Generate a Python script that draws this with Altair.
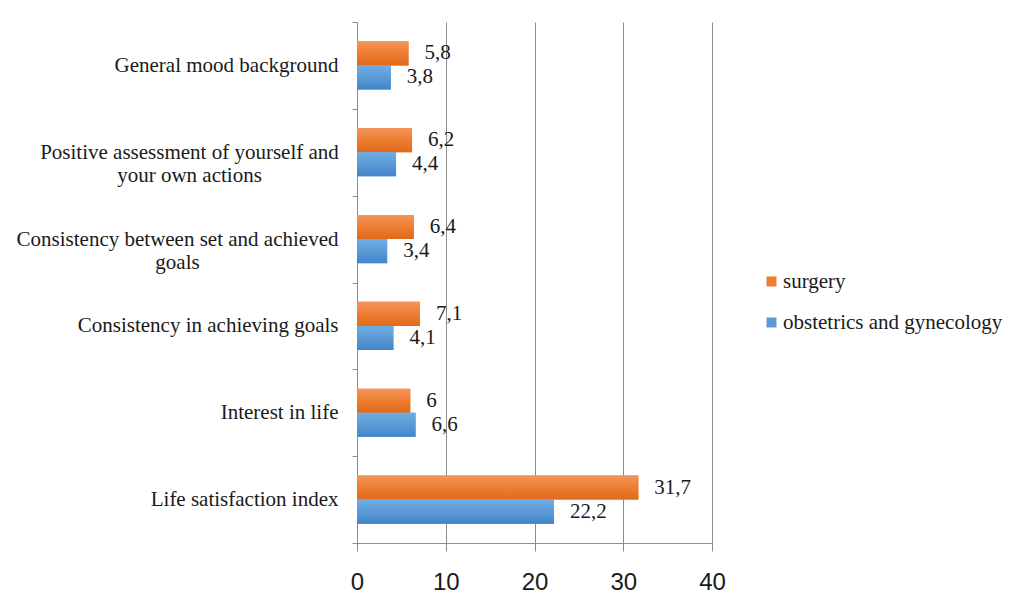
import altair as alt
import pandas as pd

categories = [
    "General mood background",
    "Positive assessment of yourself and your own actions",
    "Consistency between set and achieved goals",
    "Consistency in achieving goals",
    "Interest in life",
    "Life satisfaction index",
]
series = ["surgery", "obstetrics and gynecology"]
surgery = [5.8, 6.2, 6.4, 7.1, 6.0, 31.7]
obgyn = [3.8, 4.4, 3.4, 4.1, 6.6, 22.2]

rows = []
for c, s, o in zip(categories, surgery, obgyn):
    rows.append({"category": c, "series": series[0], "value": s})
    rows.append({"category": c, "series": series[1], "value": o})
df = pd.DataFrame(rows)

SERIF = "Liberation Serif"
FS = 21
orange_grad = alt.Gradient(
    gradient="linear", x1=0, y1=0, x2=0, y2=1,
    stops=[alt.GradientStop(color="#F4955C", offset=0),
           alt.GradientStop(color="#ED7D31", offset=0.5),
           alt.GradientStop(color="#E06A1C", offset=1)],
)
blue_grad = alt.Gradient(
    gradient="linear", x1=0, y1=0, x2=0, y2=1,
    stops=[alt.GradientStop(color="#6FADE3", offset=0),
           alt.GradientStop(color="#5B9BD5", offset=0.5),
           alt.GradientStop(color="#4084CA", offset=1)],
)

label_expr = (
    "datum.label == 'Positive assessment of yourself and your own actions' ? "
    "['Positive assessment of yourself and', 'your own actions'] : "
    "datum.label == 'Consistency between set and achieved goals' ? "
    "['Consistency between set and achieved', 'goals'] : datum.label"
)
t_pos = "datum.value == 'Positive assessment of yourself and your own actions'"
t_con = "datum.value == 'Consistency between set and achieved goals'"

y_enc = alt.Y(
    "category:N",
    sort=categories,
    scale=alt.Scale(paddingInner=0, paddingOuter=0),
    axis=alt.Axis(
        title=None, labelExpr=label_expr, labelFont=SERIF, labelFontSize=FS,
        labelColor="#1a1a1a", labelLineHeight=23,
        labelPadding={"condition": [{"test": t_pos, "value": 163},
                                    {"test": t_con, "value": 175}],
                      "value": 14},
        labelAlign={"condition": [{"test": t_pos, "value": "center"},
                                  {"test": t_con, "value": "center"}],
                    "value": "right"},
        tickBand="extent", tickSize=5, tickColor="#8c8c8c",
        domainColor="#8c8c8c", labelLimit=400, grid=False,
    ),
)
yoff_enc = alt.YOffset(
    "series:N", sort=series, scale=alt.Scale(paddingInner=0, paddingOuter=0.8)
)
x_enc = alt.X(
    "value:Q",
    scale=alt.Scale(domain=[0, 40], nice=False),
    axis=alt.Axis(
        title=None, values=[0, 10, 20, 30, 40], labelFont="Liberation Sans",
        labelFontSize=24, labelColor="#1a1a1a", labelPadding=19,
        tickSize=8, tickColor="#8c8c8c", gridColor="#8c8c8c",
        domain=True, domainColor="#8c8c8c",
        grid=True, labelFlush=False,
    ),
)

base = alt.Chart(df)

legend_bars = base.mark_bar().encode(
    x=x_enc, y=y_enc, yOffset=yoff_enc,
    color=alt.Color(
        "series:N",
        scale=alt.Scale(domain=series, range=["#ED7D31", "#5B9BD5"]),
        legend=alt.Legend(
            title=None, orient="none", legendX=404, legendY=249,
            symbolType="square", symbolSize=100, symbolStrokeWidth=0,
            labelFont=SERIF, labelFontSize=FS, labelColor="#1a1a1a",
            rowPadding=19, labelOffset=1, labelLimit=400,
        ),
    ),
)

grad_bars = base.mark_bar().encode(
    x="value:Q", y=alt.Y("category:N", sort=categories), yOffset=alt.YOffset("series:N", sort=series),
    fill=alt.condition(
        alt.datum.series == "surgery", alt.value(orange_grad), alt.value(blue_grad)
    ),
)

labels = base.transform_calculate(
    lab="replace(toString(datum.value), '.', ',')"
).mark_text(
    align="left", baseline="middle", dx=16, font=SERIF, fontSize=FS, color="#1a1a1a"
).encode(
    x="value:Q", y=alt.Y("category:N", sort=categories),
    yOffset=alt.YOffset("series:N", sort=series), text="lab:N",
)

chart = alt.layer(legend_bars, grad_bars, labels).properties(
    width=355, height=521,
    autosize=alt.AutoSizeParams(type="none"),
    padding={"left": 349, "top": 14, "right": 304, "bottom": 57},
).configure(background="white").configure_view(stroke=None)

chart.save("out.html", embed_options={"renderer": "svg", "actions": False})
